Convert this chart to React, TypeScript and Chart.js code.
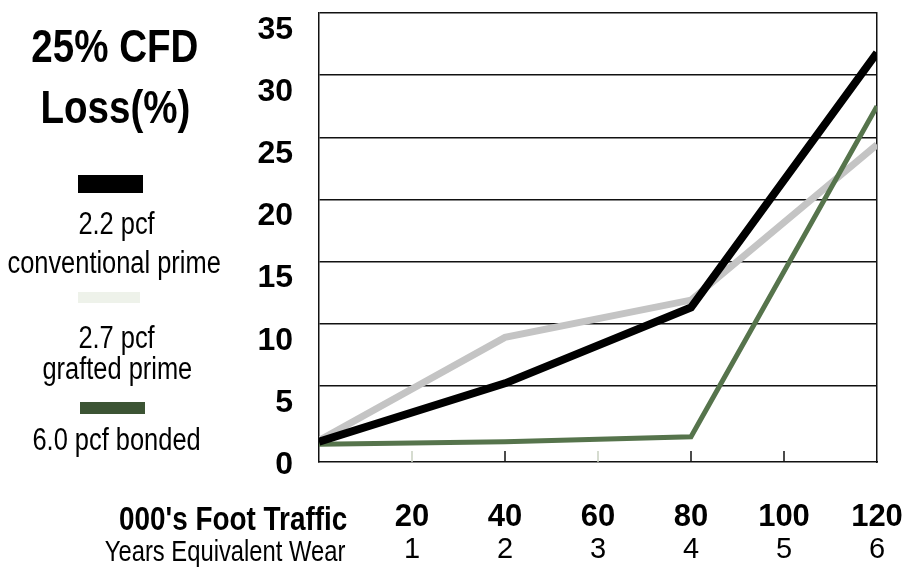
import React, { useEffect, useRef } from "react";
import { Chart, registerables } from "chart.js";

Chart.register(...registerables);

// ---- data ----
const xValues = [0, 40, 80, 120];
const conventional = [0.5, 5.2, 11.3, 31.8];
const grafted = [0.6, 8.9, 11.9, 24.4];
const bonded = [0.3, 0.5, 0.9, 27.5];

const xTickValues = [20, 40, 60, 80, 100, 120];
const trafficLabels = ["20", "40", "60", "80", "100", "120"];
const yearLabels = ["1", "2", "3", "4", "5", "6"];
const yTickValues = [0, 5, 10, 15, 20, 25, 30, 35];
const yTickLabels = ["0", "5", "10", "15", "20", "25", "30", "35"];

const seriesNames = ["2.2 pcf conventional prime", "2.7 pcf grafted prime", "6.0 pcf bonded"];

const FONT = "'Liberation Sans', Arial, sans-serif";
const SQUEEZE = 0.82;

const CHART_LEFT = 319;
const CHART_RIGHT = 877;
const CHART_TOP = 13;
const CHART_BOTTOM = 462;
const X1_HEIGHT = 70;
const W = 909;
const H = 574;

const toPoints = (ys: number[]) => xValues.map((x, i) => ({ x, y: ys[i] }));

const zeroPad = (s: any) => {
  s.paddingTop = 0;
  s.paddingBottom = 0;
  s.paddingLeft = 0;
  s.paddingRight = 0;
};

const bottomTicks = {
  id: "bottomTicks",
  afterDatasetsDraw(chart: any) {
    const xs = chart.scales.x;
    const area = chart.chartArea;
    const ctx = chart.ctx;
    ctx.save();
    [20, 40, 60, 80, 100].forEach((v) => {
      const px = xs.getPixelForValue(v);
      ctx.strokeStyle = v === 20 || v === 60 ? "#c9d0c0" : "#111";
      ctx.lineWidth = 1.5;
      ctx.beginPath();
      ctx.moveTo(px, area.bottom);
      ctx.lineTo(px, area.bottom - 11);
      ctx.stroke();
    });
    ctx.restore();
  },
};

function ChartCanvas() {
  const ref = useRef<HTMLCanvasElement | null>(null);
  useEffect(() => {
    if (!ref.current) return;
    const tickFont1 = 31;
    const tickFont2 = 29;
    const chart = new Chart(ref.current, {
      type: "line",
      data: {
        datasets: [
          {
            label: seriesNames[0],
            data: toPoints(conventional),
            borderColor: "#000000",
            borderWidth: 8,
            pointRadius: 0,
            tension: 0,
            order: 1,
          },
          {
            label: seriesNames[1],
            data: toPoints(grafted),
            borderColor: "#c4c4c4",
            borderWidth: 7,
            pointRadius: 0,
            tension: 0,
            order: 3,
          },
          {
            label: seriesNames[2],
            data: toPoints(bonded),
            borderColor: "#56744c",
            borderWidth: 5,
            pointRadius: 0,
            tension: 0,
            order: 2,
          },
        ],
      },
      options: {
        animation: false,
        responsive: false,
        devicePixelRatio: 1,
        layout: { autoPadding: false, padding: { top: CHART_TOP, left: 0, right: 0, bottom: 0 } },
        plugins: { legend: { display: false }, tooltip: { enabled: false } },
        scales: {
          x: {
            type: "linear",
            position: "bottom",
            weight: 0,
            min: 0,
            max: 120,
            afterBuildTicks: (s: any) => {
              s.ticks = xTickValues.map((v) => ({ value: v }));
            },
            afterFit: (s: any) => {
              s.height = X1_HEIGHT;
              zeroPad(s);
            },
            ticks: {
              autoSkip: false,
              maxRotation: 0,
              padding: 55 - tickFont1 / 2,
              color: "#000",
              font: { family: FONT, size: tickFont1, weight: "bold", lineHeight: 1 },
              callback: (_v: any, i: number) => trafficLabels[i],
            },
            grid: { display: false, drawTicks: false },
            border: { display: true, color: "#111", width: 1.5 },
          },
          x2: {
            type: "linear",
            position: "bottom",
            weight: 1,
            min: 0,
            max: 120,
            afterBuildTicks: (s: any) => {
              s.ticks = xTickValues.map((v) => ({ value: v }));
            },
            afterFit: (s: any) => {
              s.height = H - CHART_BOTTOM - X1_HEIGHT;
              zeroPad(s);
            },
            ticks: {
              autoSkip: false,
              maxRotation: 0,
              padding: 550 - (CHART_BOTTOM + X1_HEIGHT) - tickFont2 / 2,
              color: "#000",
              font: { family: FONT, size: tickFont2, lineHeight: 1 },
              callback: (_v: any, i: number) => yearLabels[i],
            },
            grid: { display: false, drawTicks: false },
            border: { display: false },
          },
          y: {
            type: "linear",
            position: "left",
            min: -1.13,
            max: 35,
            afterBuildTicks: (s: any) => {
              s.ticks = yTickValues.map((v) => ({ value: v }));
            },
            afterFit: (s: any) => {
              s.width = CHART_LEFT;
              zeroPad(s);
            },
            ticks: {
              padding: 26,
              labelOffset: 17,
              color: "#000",
              font: { family: FONT, size: 32, weight: "bold" },
              callback: (_v: any, i: number) => yTickLabels[i],
            },
            grid: {
              drawTicks: false,
              lineWidth: 1.5,
              color: (c: any) => (c.tick && c.tick.value === 0 ? "rgba(0,0,0,0)" : "#111"),
            },
            border: { display: true, color: "#111", width: 1.5 },
          },
          yRight: {
            type: "linear",
            position: "right",
            min: -1.13,
            max: 35,
            afterFit: (s: any) => {
              s.width = W - CHART_RIGHT;
              zeroPad(s);
            },
            ticks: { display: false },
            grid: { drawOnChartArea: false, drawTicks: false },
            border: { display: true, color: "#111", width: 1.5 },
          },
        },
      },
      plugins: [bottomTicks],
    });
    return () => chart.destroy();
  }, []);
  return <canvas ref={ref} width={W} height={H} style={{ position: "absolute", left: 0, top: 0 }} />;
}

const txt = (
  text: string,
  cx: number,
  cy: number,
  size: number,
  bold = false,
  align: "center" | "right" = "center",
  rightX?: number
): React.ReactElement => {
  const style: React.CSSProperties = {
    position: "absolute",
    top: cy - size / 2,
    height: size,
    lineHeight: `${size}px`,
    fontFamily: FONT,
    fontSize: size,
    fontWeight: bold ? 700 : 400,
    color: "#000",
    whiteSpace: "nowrap",
  };
  if (align === "center") {
    style.left = cx - 200;
    style.width = 400;
    style.textAlign = "center";
  } else {
    style.right = W - (rightX as number);
    style.textAlign = "right";
  }
  return (
    <div key={text} style={style}>
      <span
        style={{
          display: "inline-block",
          transform: `scaleX(${SQUEEZE})`,
          transformOrigin: align === "center" ? "center" : "right",
        }}
      >
        {text}
      </span>
    </div>
  );
};

export default function App() {
  return (
    <div
      style={{
        position: "fixed",
        left: 0,
        top: 0,
        width: W,
        height: H,
        background: "#fff",
        overflow: "hidden",
      }}
    >
      <ChartCanvas />
      {txt("25% CFD", 115, 45, 47, true)}
      {txt("Loss(%)", 115, 106, 47, true)}
      <div style={{ position: "absolute", left: 78, top: 175, width: 65, height: 18, background: "#000" }} />
      {txt("2.2 pcf", 117, 223, 31)}
      {txt("conventional prime", 114, 262, 31)}
      <div style={{ position: "absolute", left: 78, top: 292, width: 62, height: 11, background: "#eef2ea" }} />
      {txt("2.7 pcf", 117, 337, 31)}
      {txt("grafted prime", 117, 368, 31)}
      <div style={{ position: "absolute", left: 80, top: 402, width: 65, height: 12, background: "#3c5434" }} />
      {txt("6.0 pcf bonded", 117, 439, 31)}
      {txt("000's Foot Traffic", 0, 518, 34, true, "right", 347)}
      {txt("Years Equivalent Wear", 0, 551, 29, false, "right", 345)}
    </div>
  );
}
